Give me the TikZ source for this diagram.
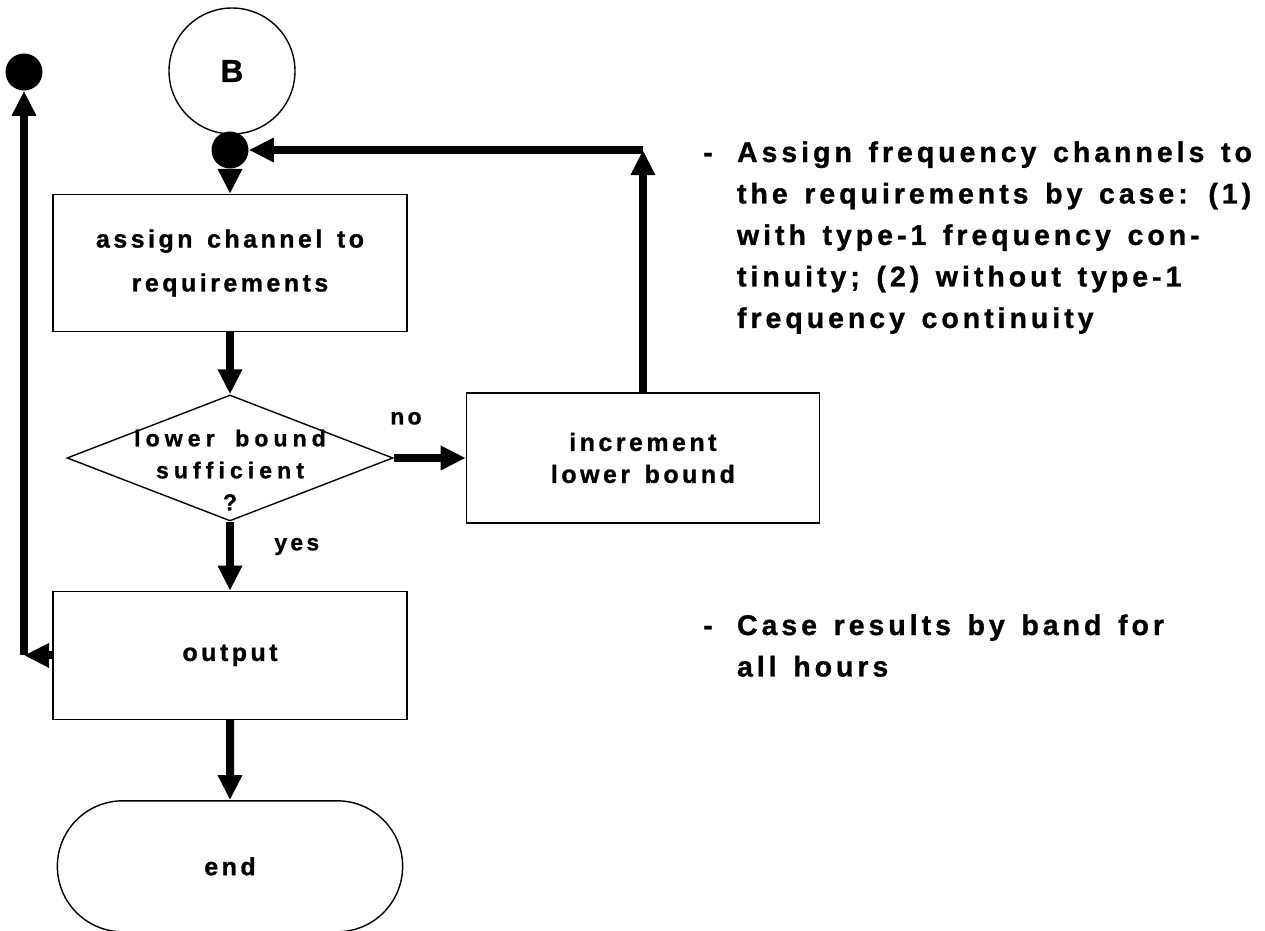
\documentclass[tikz,border=0pt]{standalone}
\usepackage{fontspec}
\usetikzlibrary{arrows.meta, positioning, shapes.geometric, shapes.misc}
\newfontfamily\chartfont{Liberation Sans}[LetterSpace=14, WordSpace=1.4, FakeBold=1]
\newfontfamily\widefont{Liberation Sans}[LetterSpace=22, WordSpace=1.8, FakeBold=1]
\newfontfamily\plainfont{Liberation Sans}[FakeBold=1]
\tikzset{
  >={Triangle[length=5mm, width=4.6mm]},
  box/.style={rectangle, draw, line width=0.8pt, align=center, minimum width=7.08cm,
              font=\chartfont\bfseries\fontsize{14.2pt}{25pt}\selectfont},
  decision/.style={diamond, draw, line width=0.8pt, inner sep=0pt,
                   minimum width=6.52cm, minimum height=2.52cm},
  dlbl/.style={align=center, font=\widefont\bfseries\fontsize{13.1pt}{18.2pt}\selectfont},
  terminal/.style={rounded rectangle, draw, line width=0.8pt, minimum width=7.14cm,
                   minimum height=2.62cm, font=\chartfont\bfseries\fontsize{14.2pt}{25pt}\selectfont},
  connector/.style={circle, draw, line width=0.8pt, minimum size=2.52cm,
                    font=\plainfont\bfseries\fontsize{18pt}{20pt}\selectfont},
  joint/.style={circle, fill, inner sep=0pt, minimum size=7.4mm},
  flow/.style={->, line width=1.6mm},
  lbl/.style={font=\chartfont\bfseries\fontsize{13.1pt}{16pt}\selectfont},
  note/.style={anchor=base west, inner sep=0pt,
               font=\chartfont\bfseries\fontsize{16.2pt}{23.6pt}\selectfont},
}

\begin{document}
\begin{tikzpicture}[x=0.2mm, y=-0.2mm]
  \useasboundingbox (0,0) rectangle (1265,930);

  % main column
  \node[connector] (startB) at (232,71) {B};
  \node[joint] (dotB) at (230,150) {};
  \node[box, minimum height=2.74cm, below=5mm of dotB] (assign) {assign channel to\\requirements};
  \node[decision, below=12.4mm of assign,
        label={[dlbl, yshift=-2.4mm]center:lower bound\\sufficient\\?}] (test) {};
  \node[box, minimum width=7.06cm, minimum height=2.6cm, right=14.4mm of test,
        font=\chartfont\bfseries\fontsize{14.2pt}{18.2pt}\selectfont] (inc) {increment\\lower bound};
  \node[box, minimum height=2.56cm, below=13.8mm of test] (output) {output};
  \node[terminal, below=16mm of output] (endnode) {end};

  % loop-back points
  \node[joint] (dotL) at (24,72) {};
  \coordinate (turn) at (inc.north |- dotB);
  \coordinate (back) at (dotL |- output);

  \draw[flow] (dotB) -- (assign);
  \draw[flow] (assign) -- (test);
  \draw[flow] (test) -- node[lbl, pos=0.17, above=4.7mm]{no} (inc);
  \draw[flow] (test) -- node[lbl, pos=0.36, right=6.9mm]{yes} (output);
  \draw[flow] (inc) -- (turn);
  \draw[flow] (turn) -- (dotB);
  \draw[flow] (output) -- (back);
  \draw[flow] (back) -- (dotL);
  \draw[flow] (output) -- (endnode);

  % notes on the right
  \node[note] (noteassign) at (703,162) {\begin{tabular}[t]{@{}l@{\hspace{0.85em}}l@{}}
    - & Assign frequency channels to\\
      & the requirements by case: (1)\\
      & with type-1 frequency con-\\
      & tinuity; (2) without type-1\\
      & frequency continuity
  \end{tabular}};
  \node[note] (notecase) at (703,635) {\begin{tabular}[t]{@{}l@{\hspace{0.85em}}l@{}}
    - & Case results by band for\\
      & all hours
  \end{tabular}};
\end{tikzpicture}
\end{document}
